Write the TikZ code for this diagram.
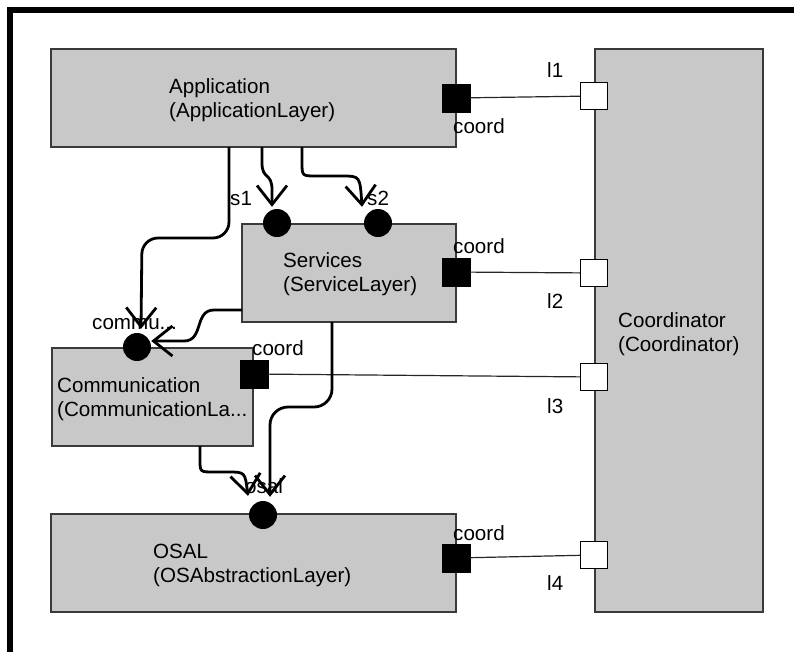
\documentclass[tikz,border=0pt]{standalone}
\usepackage{fontspec}
\setmainfont{Liberation Sans}
\usetikzlibrary{arrows.meta}
\definecolor{boxgray}{HTML}{C8C8C8}
\definecolor{edgegray}{HTML}{3A3A3A}
\tikzset{
  block/.style={draw=edgegray, fill=boxgray, line width=1.4pt},
  txt/.style={anchor=base west, inner sep=0pt, align=left, font=\fontsize{20.6}{24}\selectfont},
  outport/.style={draw=black, fill=black, minimum size=28pt, inner sep=0pt},
  inport/.style={draw=black, fill=white, line width=1pt, minimum size=27pt, inner sep=0pt},
  svcport/.style={circle, fill=black, minimum size=28pt, inner sep=0pt},
  link/.style={line width=1.2pt, draw=black!85},
  flow/.style={line width=2.8pt, -{Straight Barb[length=19pt,width=30pt,line width=2.8pt]}},
}
\begin{document}
\begin{tikzpicture}[x=1pt,y=-1pt]
\useasboundingbox (0,0) rectangle (794,651);
\begin{scope}
\clip (0,0) rectangle (794,651);
\draw[line width=6pt] (10,680) -- (10,10) -- (820,10);
\end{scope}

% boxes
\draw[block] (51,49) rectangle (456,147);
\draw[block] (595,49) rectangle (763,612);
\draw[block] (242,224) rectangle (456,322);
\draw[block] (52,348) rectangle (253,446);
\draw[block] (51,514) rectangle (456,612);

% box texts (anchor at baseline of the last line)
\node[txt] (tapp) at (169,117) {Application\\(ApplicationLayer)};
\node[txt] (tsvc) at (283,291) {Services\\(ServiceLayer)};
\node[txt] (tcom) at (57,416) {Communication\\(CommunicationLa...};
\node[txt] (tos) at (153,582) {OSAL\\(OSAbstractionLayer)};
\node[txt] (tcoo) at (618,351) {Coordinator\\(Coordinator)};

% coordinator ports
\node[inport] (l1) at (594,96) {};
\node[inport] (l2) at (594,273) {};
\node[inport] (l3) at (594,377) {};
\node[inport] (l4) at (594,555) {};

% coord ports
\node[outport] (pa) at (456,98) {};
\node[outport] (ps) at (456,272) {};
\node[outport] (pc) at (254,374) {};
\node[outport] (po) at (456,558) {};

\draw[link] (pa) -- (l1);
\draw[link] (ps) -- (l2);
\draw[link] (pc) -- (l3);
\draw[link] (po) -- (l4);

% service ports
\node[svcport] (s1) at (277,223) {};
\node[svcport] (s2) at (378,223) {};
\node[svcport] (cm) at (137,347) {};
\node[svcport] (os) at (263,515) {};

% labels
\node[txt] (ls1) at (230,205) {s1};
\node[txt] (ls2) at (367,205) {s2};
\node[txt] (lcm) at (92,329) {commu...};
\node[txt] (los) at (245,493) {osal};
\node[txt] (lca) at (453,133) {coord};
\node[txt] (lcs) at (453,253) {coord};
\node[txt] (lcc) at (252,355) {coord};
\node[txt] (lco) at (453,540) {coord};
\node[txt] (ll1) at (547,77) {l1};
\node[txt] (ll2) at (547,308) {l2};
\node[txt] (ll3) at (547,413) {l3};
\node[txt] (ll4) at (547,590) {l4};

% connector start points
\coordinate (a1) at (229,147);
\coordinate (a2) at (262,147);
\coordinate (a3) at (302,147);
\coordinate (v1) at (242,310);
\coordinate (v2) at (332,322);
\coordinate (c1) at (200,446);

\draw[flow, rounded corners=16pt] (a1) -- (229,238) -- (142,238) -- ([xshift=4pt,yshift=4pt]cm.north);
\draw[flow] (a2) -- (262,163) .. controls (262,180) and (272,172) .. (272,190) -- ([xshift=-5pt,yshift=2pt]s1.north);
\draw[flow] (a3) -- (302,162) .. controls (302,176) .. (316,176) -- (342,176) .. controls (360,176) .. ([xshift=-16pt,yshift=2pt]s2.north);
\draw[flow] (v1) -- (214,310) .. controls (194,310) and (204,341) .. (184,341) -- ([yshift=6pt]cm.east);
\draw[flow, rounded corners=18pt] (v2) -- (332,407) -- (270,407) -- ([xshift=7pt,yshift=4pt]os.north);
\draw[flow] (c1) -- (200,460) .. controls (200,472) .. (214,472) -- (228,472) .. controls (245,472) .. ([xshift=-15pt,yshift=5pt]os.north);
\end{tikzpicture}
\end{document}
